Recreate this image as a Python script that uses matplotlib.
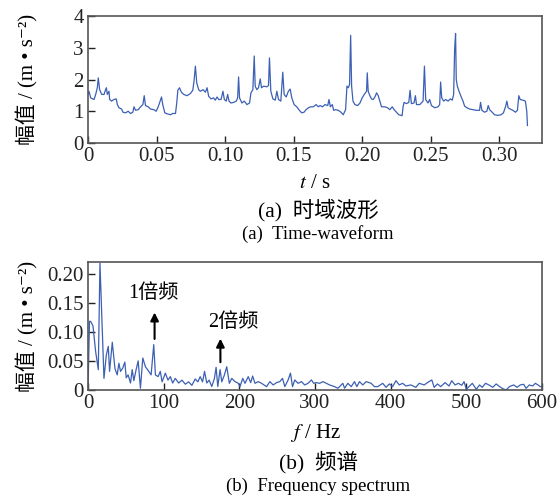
import matplotlib
matplotlib.use("Agg")
import matplotlib.pyplot as plt

plt.rcParams['font.family'] = ['Liberation Serif', 'Noto Sans CJK SC', 'DejaVu Serif']
plt.rcParams['mathtext.fontset'] = 'stix'

# %%
# time waveform (s, m/s^2)
t = [0.0000, 0.0007, 0.0020, 0.0044, 0.0056, 0.0068, 0.0075, 0.0085, 0.0100, 0.0117,
     0.0124, 0.0134, 0.0141, 0.0153, 0.0158, 0.0172, 0.0189, 0.0206, 0.0214, 0.0226,
     0.0245, 0.0255, 0.0274, 0.0293, 0.0310, 0.0327, 0.0335, 0.0347, 0.0366, 0.0383,
     0.0400, 0.0410, 0.0419, 0.0439, 0.0456, 0.0480, 0.0497, 0.0512, 0.0521, 0.0536,
     0.0545, 0.0560, 0.0577, 0.0601, 0.0618, 0.0638, 0.0647, 0.0655, 0.0667, 0.0681,
     0.0698, 0.0722, 0.0747, 0.0764, 0.0773, 0.0783, 0.0793, 0.0807, 0.0819, 0.0839,
     0.0856, 0.0868, 0.0880, 0.0897, 0.0916, 0.0928, 0.0941, 0.0953, 0.0970, 0.0984,
     0.0994, 0.1008, 0.1018, 0.1028, 0.1042, 0.1062, 0.1081, 0.1091, 0.1098, 0.1105,
     0.1122, 0.1139, 0.1159, 0.1178, 0.1188, 0.1202, 0.1212, 0.1219, 0.1231, 0.1243,
     0.1256, 0.1265, 0.1280, 0.1304, 0.1316, 0.1323, 0.1333, 0.1348, 0.1365, 0.1377,
     0.1389, 0.1406, 0.1420, 0.1430, 0.1445, 0.1461, 0.1474, 0.1486, 0.1503, 0.1522,
     0.1541, 0.1558, 0.1575, 0.1590, 0.1607, 0.1624, 0.1643, 0.1663, 0.1680, 0.1692,
     0.1709, 0.1728, 0.1748, 0.1757, 0.1767, 0.1781, 0.1791, 0.1806, 0.1825, 0.1844,
     0.1861, 0.1878, 0.1888, 0.1898, 0.1907, 0.1915, 0.1922, 0.1932, 0.1946, 0.1966,
     0.1983, 0.1999, 0.2014, 0.2031, 0.2036, 0.2043, 0.2055, 0.2067, 0.2079, 0.2092,
     0.2104, 0.2116, 0.2128, 0.2140, 0.2164, 0.2184, 0.2201, 0.2218, 0.2232, 0.2249,
     0.2266, 0.2290, 0.2298, 0.2305, 0.2322, 0.2339, 0.2348, 0.2358, 0.2377, 0.2387,
     0.2395, 0.2419, 0.2443, 0.2453, 0.2462, 0.2479, 0.2491, 0.2504, 0.2528, 0.2552,
     0.2564, 0.2571, 0.2579, 0.2593, 0.2608, 0.2625, 0.2642, 0.2656, 0.2666, 0.2673,
     0.2680, 0.2685, 0.2693, 0.2705, 0.2714, 0.2724, 0.2734, 0.2746, 0.2763, 0.2782,
     0.2806, 0.2831, 0.2855, 0.2862, 0.2872, 0.2891, 0.2908, 0.2918, 0.2928, 0.2947,
     0.2964, 0.2988, 0.3012, 0.3029, 0.3044, 0.3054, 0.3063, 0.3078, 0.3097, 0.3117,
     0.3131, 0.3141, 0.3151, 0.3170, 0.3189, 0.3199, 0.3204]
amp = [1.55, 1.63, 1.42, 1.37, 1.53, 1.74, 2.05, 1.68, 1.53, 1.53,
       1.63, 1.74, 1.53, 1.63, 1.37, 1.32, 1.37, 1.39, 1.21, 1.11,
       1.07, 0.97, 0.95, 1.00, 0.93, 0.97, 1.14, 1.03, 1.05, 1.14,
       1.21, 1.49, 1.18, 1.14, 1.07, 1.05, 1.00, 1.14, 1.26, 1.45,
       1.21, 0.95, 0.92, 0.89, 0.93, 0.93, 1.26, 1.66, 1.74, 1.60,
       1.53, 1.49, 1.56, 1.66, 1.95, 2.42, 1.89, 1.68, 1.63, 1.68,
       1.60, 1.74, 1.47, 1.39, 1.42, 1.35, 1.45, 1.37, 1.37, 1.63,
       1.37, 1.32, 1.53, 1.32, 1.26, 1.28, 1.32, 1.42, 2.08, 1.42,
       1.26, 1.32, 1.21, 1.26, 1.58, 1.68, 2.74, 1.79, 1.68, 1.74,
       2.02, 1.74, 1.79, 1.77, 1.81, 2.68, 1.63, 1.39, 1.35, 1.63,
       1.37, 1.32, 2.23, 1.53, 1.45, 1.63, 1.70, 1.42, 1.21, 1.14,
       1.03, 0.95, 0.97, 1.05, 1.11, 1.14, 1.14, 1.21, 1.14, 1.18,
       1.14, 1.21, 1.18, 1.37, 1.14, 1.21, 1.03, 1.05, 1.03, 0.97,
       0.89, 1.05, 1.79, 1.74, 1.84, 3.39, 1.79, 1.32, 1.21, 1.18,
       1.26, 1.42, 1.53, 1.63, 2.21, 1.63, 1.49, 1.39, 1.37, 1.45,
       1.58, 1.49, 1.32, 1.14, 1.14, 1.11, 1.05, 1.14, 1.05, 0.97,
       0.89, 0.86, 1.16, 1.28, 1.24, 1.28, 1.66, 1.24, 1.26, 1.49,
       1.21, 1.21, 1.32, 2.42, 1.37, 1.26, 1.37, 1.18, 1.11, 1.14,
       1.21, 1.92, 1.42, 1.32, 1.37, 1.32, 1.39, 1.35, 1.53, 2.95,
       3.45, 2.00, 1.79, 1.63, 1.53, 1.42, 1.32, 1.16, 1.11, 1.07,
       1.05, 1.03, 1.03, 1.28, 1.03, 0.97, 1.00, 1.18, 1.05, 0.97,
       0.89, 0.87, 0.89, 0.95, 1.14, 1.32, 1.11, 1.07, 1.03, 0.97,
       1.03, 1.49, 1.37, 1.35, 1.32, 1.00, 0.55]

# spectrum (Hz, m/s^2)
freq = [0, 2, 3.5, 6.6, 10.1, 13.6, 15.8, 21.1, 24.2, 26.8, 28.5, 32.1, 35.6, 38.6,
        40.8, 43, 46, 48.7, 50.5, 53, 56.2, 58.4, 60.6, 63.6, 66.3, 69.3, 72.4, 75.9,
        80.3, 83.4, 86.9, 89.1, 92.6, 95.6, 97.9, 102.2, 105.7, 108.8, 111.9, 115.4,
        119.8, 124.2, 128.6, 133, 137.3, 141.7, 145.2, 148.3, 151.4, 154, 157, 160.1,
        163.6, 167.1, 169.3, 171.5, 174.6, 176.8, 180.3, 183.4,
        186.8, 190, 194.3, 198.7, 200.9, 204.5, 207.5, 211.8, 215, 217.6, 220.7, 225,
        229.4, 236, 240.4, 244.7, 249.2, 253.5, 257.1, 260.1, 264.5, 267.6, 270.3,
        273.3, 277.6, 282.1, 286.4, 290.8, 295.3, 298.3, 301.8, 306.2, 310.5, 315,
        319.3, 325.9, 330.3, 336.8, 339.1, 343.4, 347.9, 352.2, 355.3, 358.8, 363.2,
        367.6, 374.2, 378.6, 382.9,
        389.5, 393.9, 398.2, 402.6, 407, 411.4, 415.8, 420.1, 426.7, 433.3, 437.7,
        444.3, 448.7, 454.4, 457.5, 461.8, 466.2, 471.9, 477.2, 480.7, 485.1, 489.5,
        493.9, 497, 500, 503.5, 507.9, 513.2, 517.5, 521, 525.4, 529.8, 535, 539.4,
        542.9, 547.3, 552.5, 556.9, 562.6, 567, 571.4, 575.8, 578.9, 583.3, 587.7,
        591.2, 594.7, 597.8, 600]
spec = [0.0, 0.118, 0.118, 0.110, 0.066, 0.035, 0.218, 0.020, 0.060, 0.075, 0.032,
        0.082, 0.037, 0.026, 0.046, 0.032, 0.038, 0.048, 0.021, 0.026, 0.012, 0.035,
        0.016, 0.035, 0.050, 0.003, 0.055, 0.040, 0.032, 0.026, 0.078, 0.026, 0.023,
        0.032, 0.014, 0.029, 0.017, 0.023, 0.012, 0.020, 0.012, 0.017, 0.010, 0.014,
        0.008, 0.019, 0.014, 0.023, 0.014, 0.032, 0.012, 0.017, 0.006, 0.020, 0.039,
        0.006, 0.035, 0.014, 0.026, 0.040,
        0.0115, 0.020, 0.0144, 0.0115, 0.0058, 0.020, 0.0115, 0.023, 0.0127, 0.024,
        0.0115, 0.0144, 0.0115, 0.0058, 0.0144, 0.0087, 0.0127, 0.0144, 0.020, 0.0058,
        0.0173, 0.029, 0.0058, 0.0173, 0.0115, 0.0144, 0.0087, 0.0115, 0.0173, 0.0115,
        0.0127, 0.0115, 0.0144, 0.0115, 0.0087, 0.0058, 0.003, 0.0115, 0.003, 0.0115,
        0.0058, 0.0144, 0.0058, 0.0144, 0.0087, 0.0144, 0.0115, 0.0058, 0.0058,
        0.0115, 0.0046, 0.0104, 0.0058, 0.016, 0.0087, 0.0115, 0.0069, 0.0087, 0.0046,
        0.0115, 0.0087, 0.0127, 0.0173, 0.0046, 0.0104, 0.0058, 0.0127, 0.0069, 0.016,
        0.0087, 0.0115, 0.0081, 0.0144, 0.0012, 0.0058, 0.0115, 0.0012, 0.0087, 0.0046,
        0.0115, 0.0087, 0.0046, 0.0104, 0.0069, 0.0029, 0.0, 0.0058, 0.0087, 0.0046,
        0.0087, 0.0098, 0.0029, 0.0087, 0.0069, 0.0115, 0.0087, 0.0058, 0.0058]

t_ticks = [0, 0.05, 0.10, 0.15, 0.20, 0.25, 0.30]
t_labels = ["0", "0.05", "0.10", "0.15", "0.20", "0.25", "0.30"]
a_ticks = [0, 1, 2, 3, 4]
f_ticks = [0, 100, 200, 300, 400, 500, 600]
s_ticks = [0, 0.05, 0.10, 0.15, 0.20]
s_labels = ["0", "0.05", "0.10", "0.15", "0.20"]

# %%
fig = plt.figure(figsize=(5.58, 4.96), dpi=100)
ax1 = fig.add_axes([0.1577, 0.7117, 0.8136, 0.2560])
ax2 = fig.add_axes([0.1577, 0.2137, 0.8136, 0.2581])

blue = "#3c60b3"
ax1.plot(t, amp, color=blue, lw=0.9)
ax2.plot(freq, spec, color=blue, lw=0.9)

ax1.set_xlim(0, 0.331)
ax1.set_ylim(0, 4)
ax1.set_xticks(t_ticks)
ax1.set_xticklabels(t_labels)
ax1.set_yticks(a_ticks)

ax2.set_xlim(0, 600)
ax2.set_ylim(0, 0.22)
ax2.set_xticks(f_ticks)
ax2.set_yticks(s_ticks)
ax2.set_yticklabels(s_labels)

ylab = "幅值 / (m • s⁻²)"
for ax in (ax1, ax2):
    ax.tick_params(direction="in", length=5, width=1, labelsize=15, pad=3, colors="#222222")
    for sp in ax.spines.values():
        sp.set_color("#555555")
        sp.set_linewidth(1.2)
    ax.set_ylabel(ylab, fontsize=15)
    ax.yaxis.set_label_coords(-0.11, 0.5)

ax1.set_xlabel("$t$ / s", fontsize=15, labelpad=6)
ax2.set_xlabel("$f$ / Hz", fontsize=15, labelpad=6)

# annotations
ax2.annotate("", xy=(88, 0.138), xytext=(88, 0.083),
             arrowprops=dict(arrowstyle="-|>", color="black", lw=1.5, mutation_scale=12))
ax2.text(86, 0.166, "1倍频", fontsize=14.5, ha="center", va="center")
ax2.annotate("", xy=(175, 0.093), xytext=(175, 0.043),
             arrowprops=dict(arrowstyle="-|>", color="black", lw=1.5, mutation_scale=12))
ax2.text(192, 0.116, "2倍频", fontsize=14.5, ha="center", va="center")

# captions
fig.text(0.57, 1 - 210 / 496, "(a)  时域波形", fontsize=15.5, ha="center", va="center")
fig.text(0.57, 1 - 234 / 496, "(a)  Time-waveform", fontsize=13.5, ha="center", va="center")
fig.text(0.57, 1 - 462 / 496, "(b)  频谱", fontsize=15.5, ha="center", va="center")
fig.text(0.57, 1 - 486 / 496, "(b)  Frequency spectrum", fontsize=13.5, ha="center", va="center")

fig.savefig("out.png", dpi=100)
